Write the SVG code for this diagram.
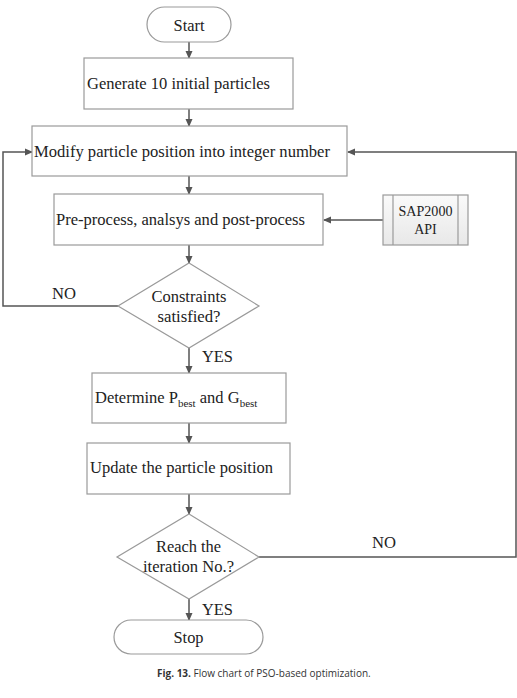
<svg xmlns="http://www.w3.org/2000/svg" width="517" height="698" viewBox="0 0 517 698">
<defs>
<marker id="ah" markerWidth="8" markerHeight="8" refX="7" refY="4" orient="auto" markerUnits="userSpaceOnUse">
<path d="M0,0.5 L8,4 L0,7.5 Z" fill="#555"/>
</marker>
<linearGradient id="sapg" x1="0" y1="0" x2="0" y2="1">
<stop offset="0" stop-color="#fafafa"/>
<stop offset="1" stop-color="#e8e8e8"/>
</linearGradient>
</defs>
<style>
.box{fill:#fff;stroke:#9a9a9a;stroke-width:1.2}
.t{font-family:"Liberation Serif","Times New Roman",serif;font-size:16.5px;fill:#222}
.tc{font-family:"Liberation Serif","Times New Roman",serif;font-size:16px;fill:#222;text-anchor:middle}
.sap{font-family:"Liberation Serif","Times New Roman",serif;font-size:14px;fill:#222;text-anchor:middle}
.lbl{font-family:"Liberation Serif","Times New Roman",serif;font-size:16px;fill:#222}
.c{fill:none;stroke:#555;stroke-width:1.5}
.cap{font-family:"Open Sans","Liberation Sans",sans-serif;font-size:10px;fill:#333}
</style>
<rect width="517" height="698" fill="#fff"/>
<g id="connectors">
<line class="c" x1="189" y1="42" x2="189" y2="58" marker-end="url(#ah)"/>
<line class="c" x1="189" y1="109" x2="189" y2="126" marker-end="url(#ah)"/>
<line class="c" x1="189" y1="176" x2="189" y2="194" marker-end="url(#ah)"/>
<line class="c" x1="189" y1="245" x2="189" y2="263" marker-end="url(#ah)"/>
<line class="c" x1="189" y1="348" x2="189" y2="373" marker-end="url(#ah)"/>
<line class="c" x1="189" y1="423" x2="189" y2="443" marker-end="url(#ah)"/>
<line class="c" x1="189" y1="494" x2="189" y2="514" marker-end="url(#ah)"/>
<line class="c" x1="189" y1="599" x2="189" y2="620" marker-end="url(#ah)"/>
<line class="c" x1="383" y1="220" x2="324" y2="220" marker-end="url(#ah)"/>
<polyline class="c" points="118,306 3,306 3,152 32,152" marker-end="url(#ah)"/>
<polyline class="c" points="259,557 516,557 516,152 348,152" marker-end="url(#ah)"/>
</g>
<g id="start">
<rect class="box" x="147" y="7" width="84" height="35" rx="17.5"/>
<text class="tc" x="189" y="31" textLength="31" lengthAdjust="spacingAndGlyphs">Start</text>
</g>
<g id="generate">
<rect class="box" x="84" y="58" width="209" height="51"/>
<text class="t" x="87" y="89" textLength="183" lengthAdjust="spacingAndGlyphs">Generate 10 initial particles</text>
</g>
<g id="modify">
<rect class="box" x="32" y="126" width="315" height="50"/>
<text class="t" x="34" y="157" textLength="296" lengthAdjust="spacingAndGlyphs">Modify particle position into integer number</text>
</g>
<g id="preprocess">
<rect class="box" x="54" y="194" width="269" height="51"/>
<text class="t" x="56" y="225" textLength="249" lengthAdjust="spacingAndGlyphs">Pre-process, analsys and post-process</text>
</g>
<g id="sap2000">
<rect x="383" y="195" width="85" height="50" fill="url(#sapg)" stroke="#9a9a9a" stroke-width="1.2"/>
<line x1="393" y1="195" x2="393" y2="245" stroke="#9a9a9a" stroke-width="1.2"/>
<line x1="458" y1="195" x2="458" y2="245" stroke="#9a9a9a" stroke-width="1.2"/>
<text class="sap" x="425.5" y="216" textLength="54" lengthAdjust="spacingAndGlyphs">SAP2000</text>
<text class="sap" x="425.5" y="234">API</text>
</g>
<g id="constraints">
<polygon class="box" points="189,263 259,306 189,348 118,306"/>
<text class="tc" x="189" y="302" textLength="75" lengthAdjust="spacingAndGlyphs">Constraints</text>
<text class="tc" x="189" y="322" textLength="63" lengthAdjust="spacingAndGlyphs">satisfied?</text>
</g>
<g id="determine">
<rect class="box" x="92" y="373" width="194" height="50"/>
<text class="t" x="95" y="403">Determine P<tspan font-size="11" dy="4">best</tspan><tspan dy="-4"> and G</tspan><tspan font-size="11" dy="4">best</tspan></text>
</g>
<g id="update">
<rect class="box" x="87" y="443" width="203" height="51"/>
<text class="t" x="90" y="473" textLength="183" lengthAdjust="spacingAndGlyphs">Update the particle position</text>
</g>
<g id="reach">
<polygon class="box" points="189,514 259,557 189,599 117,557"/>
<text class="tc" x="188.5" y="552" textLength="65" lengthAdjust="spacingAndGlyphs">Reach the</text>
<text class="tc" x="188.5" y="572" textLength="91" lengthAdjust="spacingAndGlyphs">iteration No.?</text>
</g>
<g id="stop">
<rect class="box" x="114" y="620" width="149" height="34" rx="17"/>
<text class="tc" x="188.5" y="643" textLength="30" lengthAdjust="spacingAndGlyphs">Stop</text>
</g>
<g id="labels">
<text class="lbl" x="52" y="299" textLength="24" lengthAdjust="spacingAndGlyphs">NO</text>
<text class="lbl" x="202" y="362" textLength="31" lengthAdjust="spacingAndGlyphs">YES</text>
<text class="lbl" x="372" y="548" textLength="24" lengthAdjust="spacingAndGlyphs">NO</text>
<text class="lbl" x="202" y="615" textLength="31" lengthAdjust="spacingAndGlyphs">YES</text>
</g>
<text class="cap" x="157" y="677"><tspan font-weight="bold">Fig. 13.</tspan>  Flow chart of PSO-based optimization.</text>
</svg>
